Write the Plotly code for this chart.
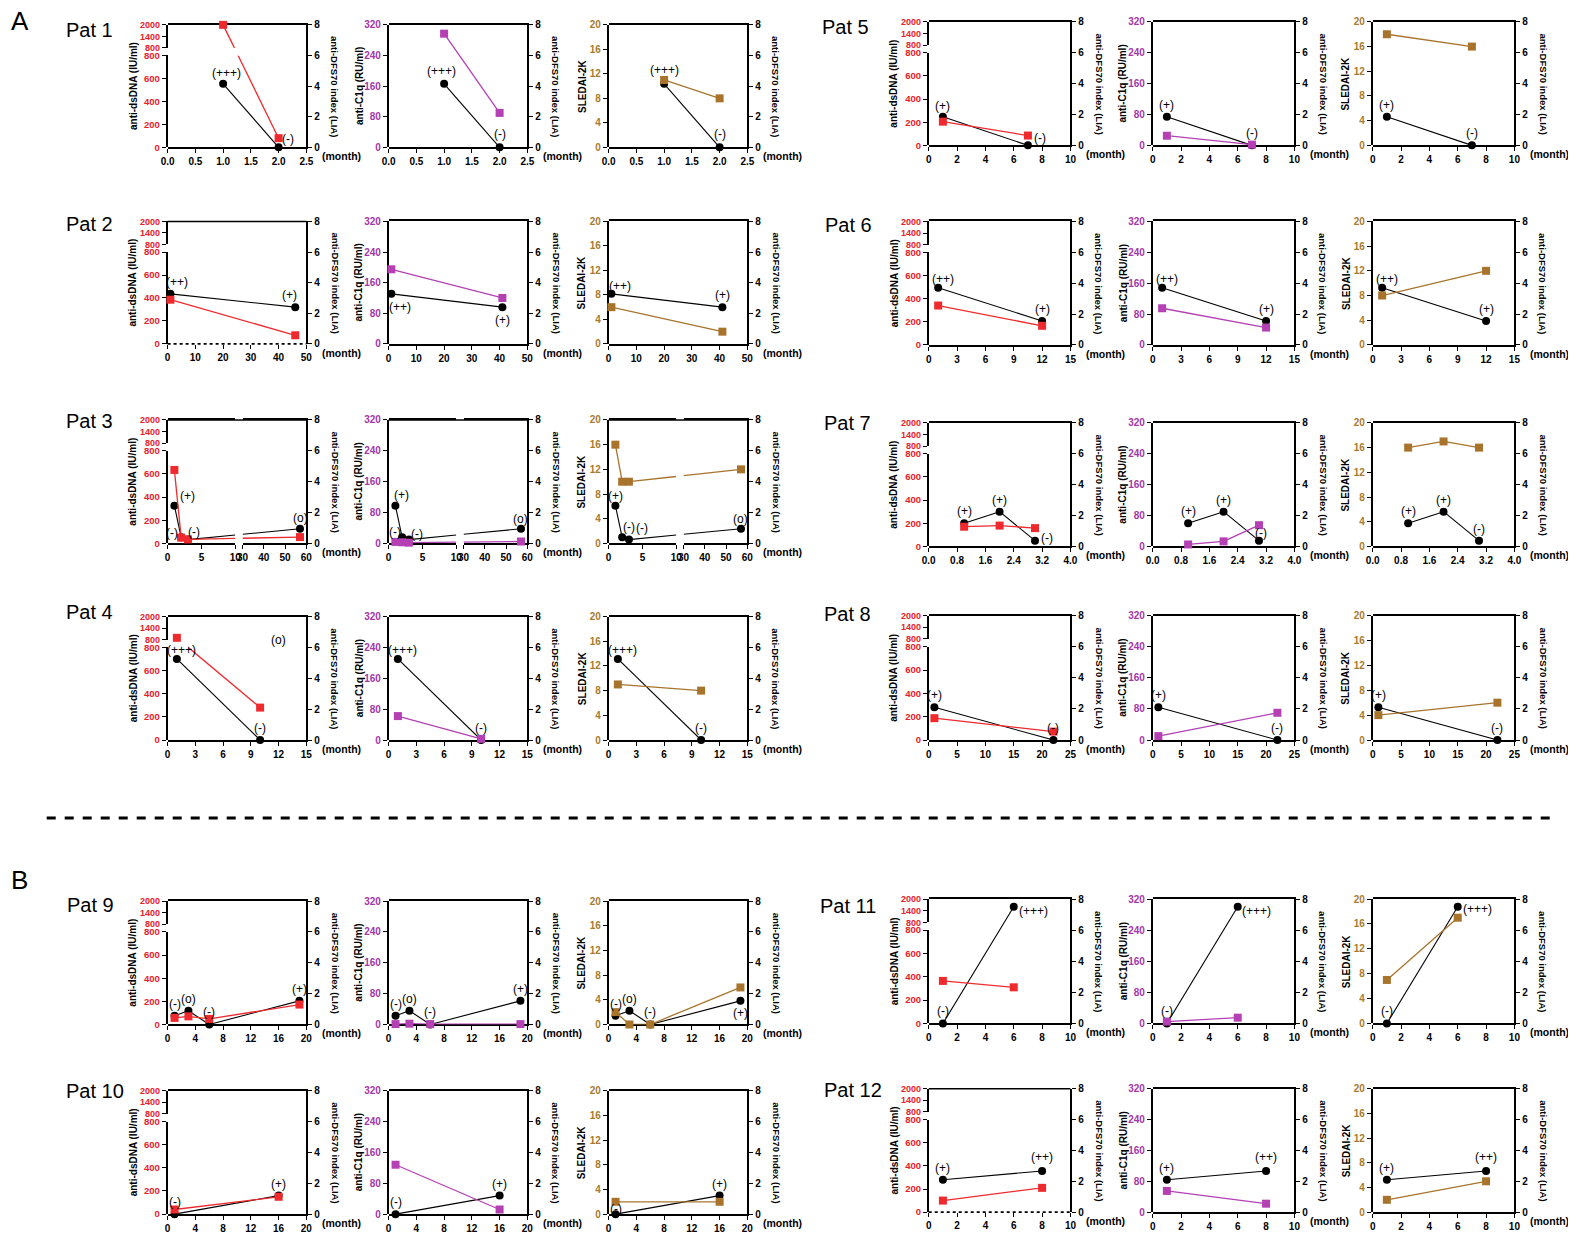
import plotly.graph_objects as go

# The page body keeps its default 8px margin, so the figure is drawn 16px
# smaller than the window and every reference pixel is shifted by 8.
PAGE_W, PAGE_H, BODY_MARGIN = 1576, 1242, 8
W, H = PAGE_W - 2 * BODY_MARGIN, PAGE_H - 2 * BODY_MARGIN

# ---------------- data ----------------
PATIENTS = ["Pat 1", "Pat 2", "Pat 3", "Pat 4", "Pat 5", "Pat 6",
            "Pat 7", "Pat 8", "Pat 9", "Pat 10", "Pat 11", "Pat 12"]

MONTHS = [
    [1, 2],
    [1, 41],
    [1, 2, 3, 57],
    [1, 10],
    [1, 7],
    [1, 12],
    [1, 2, 3],
    [1, 22],
    [1, 3, 6, 19],
    [1, 16],
    [1, 6],
    [1, 8],
]
# anti-dsDNA panel of Pat 2 shows its second visit further right
DSDNA_MONTHS_OVERRIDE = {1: [1, 46]}

DFS70_INDEX = [
    [4.15, 0],
    [3.27, 2.4],
    [2.45, 0.4, 0.25, 0.95],
    [5.25, 0],
    [1.85, 0],
    [3.7, 1.55],
    [1.5, 2.25, 0.37],
    [2.1, 0],
    [0.57, 0.89, 0, 1.53],
    [0, 1.2],
    [0, 7.5],
    [2.1, 2.67],
]
DFS70_GRADE = [
    ["(+++)", "(-)"],
    ["(++)", "(+)"],
    ["(+)", "(-)", "(-)", "(o)"],
    ["(+++)", "(-)"],
    ["(+)", "(-)"],
    ["(++)", "(+)"],
    ["(+)", "(+)", "(-)"],
    ["(+)", "(-)"],
    ["(-)", "(o)", "(-)", "(+)"],
    ["(-)", "(+)"],
    ["(-)", "(+++)"],
    ["(+)", "(++)"],
]
ANTI_DSDNA = [
    [2000, 80],
    [385, 75],
    [635, 50, 35, 55],
    [900, 280],
    [205, 85],
    [340, 165],
    [170, 180, 158],
    [187, 72],
    [57, 70, 48, 172],
    [40, 150],
    [365, 310],
    [100, 210],
]
ANTI_C1Q = [
    [297, 90],
    [195, 120],
    [4, 3, 2, 5],
    [62, 3],
    [25, 2],
    [95, 45],
    [5, 13, 55],
    [10, 70],
    [1, 2, 1, 1],
    [128, 12],
    [5, 15],
    [55, 22],
]
SLEDAI_2K = [
    [11, 8],
    [6, 2],
    [16, 10, 10, 12],
    [9, 8],
    [18, 16],
    [8, 12],
    [16, 17, 16],
    [4, 6],
    [2, 0, 0, 6],
    [2, 2],
    [7, 17],
    [2, 5],
]

X_MAX = [2.5, 50, 60, 15, 10, 15, 4.0, 25, 20, 20, 10, 10]
X_DTICK = [0.5, 10, None, 3, 2, 3, 0.8, 5, 4, 4, 2, 2]
X_FORMAT = [".1f", "", "", "", "", "", ".1f", "", "", "", "", ""]
PAT3_X_SEGMENTS = [(0, 10, [0, 5, 10]), (30, 60, [30, 40, 50, 60])]

DSDNA_LOW_TICKS = [0, 200, 400, 600, 800]
DSDNA_HIGH_TICKS = [800, 1400, 2000]
C1Q_TICKS = [0, 80, 160, 240, 320]
SLEDAI_TICKS = [0, 4, 8, 12, 16, 20]
DFS70_TICKS = [0, 2, 4, 6, 8]

LEFT_TITLES = ["anti-dsDNA (IU/ml)", "anti-C1q (RU/ml)", "SLEDAI-2K"]
RIGHT_TITLE = "anti-DFS70 index (LIA)"

# ---------------- layout / style ----------------
FONT = "Liberation Sans, Arial, sans-serif"
RED, PURPLE, BROWN = "#ee2a2e", "#b440b4", "#a8742c"
TICK_COLORS = ["#e8202a", "#a238a8", "#a87a30"]
SERIES_COLORS = [RED, PURPLE, BROWN]

LEFT_COLS, RIGHT_COLS = [162, 385, 607], [930, 1156, 1378]
PW_LEFT, PW_RIGHT = 140, 143
ROWS = [(19, 143), (218, 342), (419, 544), (618, 743),
        (16, 141), (218, 343), (422, 547), (617, 743),
        (906, 1031), (1098, 1223), (904, 1030), (1096, 1221)]
PAT_LABEL_POS = [(57, 24), (57, 221), (57, 420), (57, 613),
                 (820, 21), (823, 222), (822, 422), (822, 615),
                 (58, 910), (57, 1098), (818, 911), (822, 1097)]
LEFT_TITLE_GAP = [35, 30, 27]
# broken-axis layout (fractions of the panel)
X_BREAK_FRACS = [(0.0, 0.488), (0.54, 1.0)]
Y_BREAK_FRACS = [(0.0, 0.75), (0.812, 1.0)]

DEFAULT_SHIFT = (0, 12)
LABEL_SHIFT = {
    (0, 0): [(3, 11), (9, 8)],
    (0, 1): [(-3, 13), (0, 13)],
    (0, 2): [(0, 14), (0, 13)],
    (1, 0): [(7, 12), (-6, 12)],
    (1, 1): [(9, -13), (0, -13)],
    (1, 2): [(9, 8), (0, 12)],
    (2, 0): [(13, 10), (-9, 4), (6, 8), (1, 11)],
    (2, 1): [(6, 11), (-7, 5), (8, 6), (0, 10)],
    (2, 2): [(0, 10), (7, 10), (13, 12), (0, 10)],
    (3, 0): [(5, 9), (0, 12)], (3, 1): [(5, 9), (0, 12)], (3, 2): [(5, 9), (0, 12)],
    (4, 0): [(0, 11), (12, 7)],
    (5, 0): [(5, 9), (0, 12)], (5, 1): [(5, 9), (0, 12)], (5, 2): [(5, 9), (0, 12)],
    (6, 0): [(0, 12), (0, 12), (12, 3)],
    (6, 1): [(0, 12), (0, 12), (2, 8)],
    (8, 2): [(0, 12), (0, 12), (0, 12), (0, -12)],
    (9, 2): [(0, 5), (0, 12)],
    (10, 0): [(0, 12), (20, -4)], (10, 1): [(0, 12), (19, -4)], (10, 2): [(0, 12), (20, -2)],
    (11, 0): [(0, 12), (0, 14)], (11, 1): [(0, 12), (0, 14)], (11, 2): [(0, 12), (0, 14)],
}
DOTTED_BASELINE = {1, 11}   # Pat 2, Pat 12 anti-dsDNA panels


def X(p):
    return (p - BODY_MARGIN) / W


def Y(p):
    return 1 - (p - BODY_MARGIN) / H


layout = dict(width=W, height=H, autosize=False, margin=dict(l=0, r=0, t=0, b=0),
              paper_bgcolor="white", plot_bgcolor="rgba(0,0,0,0)", showlegend=False,
              font=dict(family=FONT, color="black"))
annotations, shapes, traces = [], [], []
count = {"x": 0, "y": 0}


def new_axis(kind):
    count[kind] += 1
    n = count[kind]
    return (f"{kind}axis" if n == 1 else f"{kind}axis{n}",
            kind if n == 1 else f"{kind}{n}")


def tfont(color="black", size=10):
    return dict(family=FONT, size=size, color=color, weight="bold")


BASE = dict(showline=True, linecolor="black", linewidth=1.6, ticks="outside",
            ticklen=4, tickwidth=1.4, tickcolor="black", showgrid=False,
            zeroline=False, layer="below traces")


def paper_text(x, y, text, size, bold=False, angle=0, xanchor="center"):
    f = dict(family=FONT, size=size, color="black")
    if bold:
        f["weight"] = "bold"
    annotations.append(dict(x=X(x), y=Y(y), xref="paper", yref="paper", text=text,
                            showarrow=False, textangle=angle, xanchor=xanchor,
                            yanchor="middle", font=f))


# ---- broken-axis helpers: a segment is (lo, hi, f0, f1, axis_name) ----
def to_frac(v, segs):
    for lo, hi, f0, f1, _ in segs:
        if lo <= v <= hi:
            return f0 + (f1 - f0) * (v - lo) / (hi - lo)
    lo, hi, f0, f1, _ = min(segs, key=lambda s: min(abs(v - s[0]), abs(v - s[1])))
    return f0 + (f1 - f0) * (v - lo) / (hi - lo)


def from_frac(f, seg):
    lo, hi, f0, f1, _ = seg
    return lo + (f - f0) / (f1 - f0) * (hi - lo)


def clip(p, q, rect):
    (x0, y0), (x1, y1) = p, q
    dx, dy = x1 - x0, y1 - y0
    t0, t1 = 0.0, 1.0
    for pk, qk in ((-dx, x0 - rect[0]), (dx, rect[1] - x0),
                   (-dy, y0 - rect[2]), (dy, rect[3] - y0)):
        if abs(pk) < 1e-12:
            if qk < -1e-9:
                return None
        else:
            r = qk / pk
            if pk < 0:
                t0 = max(t0, r)
            else:
                t1 = min(t1, r)
    if t0 > t1 - 1e-9:
        return None
    return (x0 + t0 * dx, y0 + t0 * dy), (x0 + t1 * dx, y0 + t1 * dy)


def add_series(xs, ys, xsegs, ysegs, color, symbol, size, lw):
    pts = [(to_frac(a, xsegs), to_frac(b, ysegs)) for a, b in zip(xs, ys)]
    for xs_ in xsegs:
        for ys_ in ysegs:
            rect = (xs_[2], xs_[3], ys_[2], ys_[3])
            lx, ly = [], []
            for i in range(len(pts) - 1):
                piece = clip(pts[i], pts[i + 1], rect)
                if piece is None:
                    continue
                for g, f in piece:
                    lx.append(from_frac(g, xs_))
                    ly.append(from_frac(f, ys_))
                lx.append(None)
                ly.append(None)
            if not lx:
                lx, ly = [None], [None]
            # every axis pair gets a trace so that all axis pieces are drawn
            traces.append(go.Scatter(x=lx, y=ly, xaxis=xs_[4], yaxis=ys_[4], mode="lines",
                                     line=dict(color=color, width=lw), hoverinfo="skip"))
            keep = [(xs_[0] <= a <= xs_[1]) and (ys_[0] <= b <= ys_[1]) for a, b in zip(xs, ys)]
            if any(keep):
                traces.append(go.Scatter(
                    x=[a if k else None for a, k in zip(xs, keep)],
                    y=[b if k else None for b, k in zip(ys, keep)],
                    xaxis=xs_[4], yaxis=ys_[4], mode="markers", cliponaxis=False,
                    marker=dict(color=color, symbol=symbol, size=size, line=dict(width=0)),
                    hoverinfo="skip"))


def panel(p, k, left, width, top, bottom):
    months = MONTHS[p]
    if k == 0 and p in DSDNA_MONTHS_OVERRIDE:
        months = DSDNA_MONTHS_OVERRIDE[p]
    dfs = DFS70_INDEX[p]
    left_vals = [ANTI_DSDNA, ANTI_C1Q, SLEDAI_2K][k][p]

    if p == 2:
        segs = [(PAT3_X_SEGMENTS[i], X_BREAK_FRACS[i][0], X_BREAK_FRACS[i][1]) for i in range(2)]
    else:
        d = X_DTICK[p]
        n = int(round(X_MAX[p] / d))
        segs = [((0, X_MAX[p], [round(i * d, 3) for i in range(n + 1)]), 0.0, 1.0)]

    xnames = [new_axis("x") for _ in segs]
    yR_key, yR = new_axis("y")
    lefts = [new_axis("y"), new_axis("y")] if k == 0 else [new_axis("y")]

    y0, y1 = Y(bottom), Y(top)
    hfrac = y1 - y0
    xsegs = []
    for (key, name), ((lo, hi, tv), f0, f1) in zip(xnames, segs):
        ax = dict(BASE, anchor=yR, domain=[X(left + f0 * width), X(left + f1 * width)],
                  range=[lo, hi], tickvals=tv, tickfont=tfont(), mirror=True)
        if X_FORMAT[p]:
            ax["ticktext"] = [format(v, X_FORMAT[p]) for v in tv]
        if k == 0 and p in DOTTED_BASELINE:
            ax["showline"] = False
            ax["mirror"] = False
        layout[key] = ax
        xsegs.append((lo, hi, f0, f1, name))

    layout[yR_key] = dict(BASE, anchor=xnames[-1][1], side="right", domain=[y0, y1],
                          range=[0, 8], tickvals=DFS70_TICKS, tickfont=tfont())
    tc = TICK_COLORS[k]
    if k == 0:
        (klo, nlo), (khi, nhi) = lefts
        (a0, a1), (b0, b1) = Y_BREAK_FRACS
        layout[klo] = dict(BASE, anchor=xnames[0][1], side="left",
                           domain=[y0 + a0 * hfrac, y0 + a1 * hfrac], range=[0, 800],
                           tickvals=DSDNA_LOW_TICKS, tickfont=tfont(tc, 9.5))
        layout[khi] = dict(BASE, anchor=xnames[0][1], side="left",
                           domain=[y0 + b0 * hfrac, y0 + b1 * hfrac], range=[800, 2000],
                           tickvals=DSDNA_HIGH_TICKS, tickfont=tfont(tc, 9))
        ysegs = [(0, 800, a0, a1, nlo), (800, 2000, b0, b1, nhi)]
    else:
        (kl, nl), = lefts
        rng = [0, 320] if k == 1 else [0, 20]
        tv = C1Q_TICKS if k == 1 else SLEDAI_TICKS
        layout[kl] = dict(BASE, anchor=xnames[0][1], side="left", domain=[y0, y1],
                          range=rng, tickvals=tv, tickfont=tfont(tc))
        ysegs = [(rng[0], rng[1], 0.0, 1.0, nl)]

    add_series(months, left_vals, xsegs, ysegs, SERIES_COLORS[k], "square", 8, 1.3)
    add_series(months, dfs, xsegs, [(0, 8, 0.0, 1.0, yR)], "black", "circle", 8, 1.1)

    shifts = LABEL_SHIFT.get((p, k), [DEFAULT_SHIFT] * len(dfs))
    for m, v, txt, (dx, dy) in zip(months, dfs, DFS70_GRADE[p], shifts):
        xn = xnames[0][1]
        for lo, hi, f0, f1, name in xsegs:
            if lo <= m <= hi:
                xn = name
        annotations.append(dict(x=m, y=v, xref=xn, yref=yR, text=txt, showarrow=False,
                                xanchor="center", yanchor="middle",
                                xshift=dx, yshift=dy, font=dict(family=FONT, size=12)))
    if p == 3 and k == 0:
        annotations.append(dict(x=12, y=6.5, xref=xnames[0][1], yref=yR, text="(o)",
                                showarrow=False, xanchor="center", yanchor="middle",
                                font=dict(family=FONT, size=12)))

    right = left + width
    if p == 2 or (k == 0 and p in DOTTED_BASELINE):
        shapes.append(dict(type="line", xref="paper", yref="paper", x0=X(left), x1=X(right),
                           y0=y1, y1=y1, line=dict(color="black", width=1.6)))
    if k == 0 and p in DOTTED_BASELINE:
        shapes.append(dict(type="line", xref="paper", yref="paper", x0=X(left), x1=X(right),
                           y0=y0, y1=y0, line=dict(color="black", width=1.8, dash="dot")))

    cy = (top + bottom) / 2
    paper_text(left - LEFT_TITLE_GAP[k], cy, LEFT_TITLES[k], 10, bold=True, angle=-90)
    paper_text(right + 29, cy, RIGHT_TITLE, 9.5, bold=True, angle=90)
    paper_text(right + 35, bottom + 9, "(month)", 10.5, bold=True)


for p in range(12):
    right_half = p in (4, 5, 6, 7, 10, 11)
    cols = RIGHT_COLS if right_half else LEFT_COLS
    pw = PW_RIGHT if right_half else PW_LEFT
    top, bottom = ROWS[p]
    for k in range(3):
        panel(p, k, cols[k], pw, top, bottom)
    lx, ly = PAT_LABEL_POS[p]
    paper_text(lx, ly, PATIENTS[p], 20, xanchor="left")

paper_text(2, 15, "A", 26, xanchor="left")
paper_text(2, 885, "B", 26, xanchor="left")
shapes.append(dict(type="line", xref="paper", yref="paper", x0=X(40), x1=X(1562),
                   y0=Y(822), y1=Y(822), line=dict(color="black", width=3, dash="dash")))

layout["annotations"] = annotations
layout["shapes"] = shapes
fig = go.Figure(data=traces, layout=layout)
fig.write_html("out.html")
